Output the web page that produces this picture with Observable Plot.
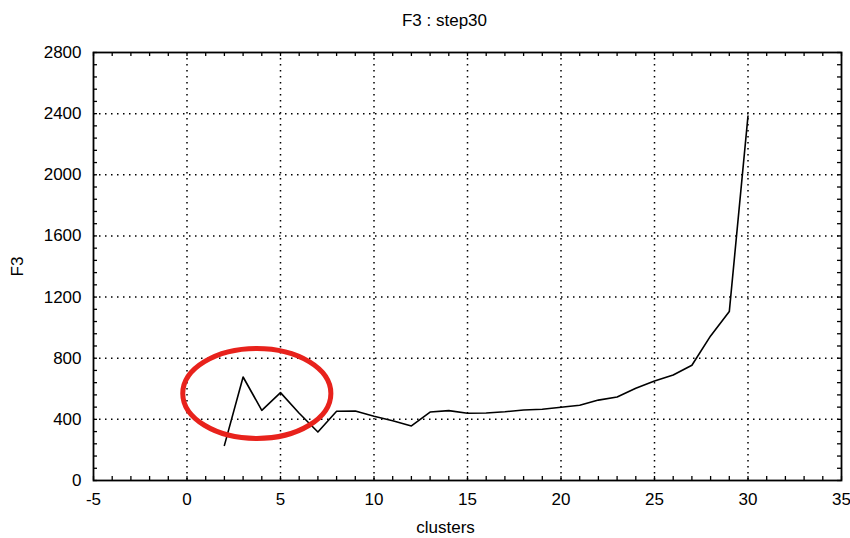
<!DOCTYPE html>
<html><head><meta charset="utf-8">
<script src="https://cdn.jsdelivr.net/npm/d3@7"></script>
<script src="https://cdn.jsdelivr.net/npm/@observablehq/plot@0.6"></script>
<style>body{margin:0;background:#fff}</style>
</head><body><div id="chart"></div>
<script>
const clusters = [2,3,4,5,6,7,8,9,10,11,12,13,14,15,16,17,18,19,20,21,22,23,24,25,26,27,28,29,30];
const f3 = [230,677,459,575,440,317,453,455,420,391,357,448,457,440,442,450,461,466,479,492,526,546,603,651,690,754,946,1105,2385];
const xTicks = [-5,0,5,10,15,20,25,30,35];
const yTicks = [0,400,800,1200,1600,2000,2400,2800];
const xMinor = d3.range(-5, 36, 1);
const yMinor = d3.range(0, 2801, 80);
const titleText = "F3 : step30";
const xLabel = "clusters";
const yLabel = "F3";
// highlight annotation (center and radii in data units)
const highlight = {cx: 3.76, cy: 566, rx: 3.96, ry: 294};

const data = clusters.map((c, i) => ({c, v: f3[i]}));
const W = 850, H = 538;
const mL = 93, mR = 9, mT = 52, mB = 58;
const pw = W - mL - mR, ph = H - mT - mB;
const tl = 4;
const font = "Liberation Sans, Arial, sans-serif";

const ellipseMark = (index, scales, values, dimensions, context) => {
  const x0 = scales.x(highlight.cx), y0 = scales.y(highlight.cy);
  const rxp = Math.abs(scales.x(highlight.cx + highlight.rx) - x0);
  const ryp = Math.abs(scales.y(highlight.cy + highlight.ry) - y0);
  const e = d3.create("svg:ellipse")
    .attr("cx", x0).attr("cy", y0).attr("rx", rxp).attr("ry", ryp)
    .attr("fill", "none").attr("stroke", "#e8221c").attr("stroke-width", 5);
  return e.node();
};

const chart = Plot.plot({
  width: W, height: H,
  marginLeft: mL, marginRight: mR, marginTop: mT, marginBottom: mB,
  style: {fontFamily: font, fontSize: "17px", background: "#fff", color: "#000"},
  x: {domain: [-5, 35]},
  y: {domain: [0, 2800]},
  marks: [
    Plot.ruleX(xTicks.slice(1, -1), {x: d => d, stroke: "#000", strokeWidth: 1.5, strokeDasharray: "1.5,4.5"}),
    Plot.ruleY(yTicks.slice(1, -1), {y: d => d, stroke: "#000", strokeWidth: 1.5, strokeDasharray: "1.5,4.5"}),
    Plot.ruleX(xMinor, {x: d => d, insetTop: ph - tl, stroke: "#000", strokeWidth: 1.3}),
    Plot.ruleX(xMinor, {x: d => d, insetBottom: ph - tl, stroke: "#000", strokeWidth: 1.3}),
    Plot.ruleY(yMinor, {y: d => d, insetRight: pw - tl, stroke: "#000", strokeWidth: 1.3}),
    Plot.ruleY(yMinor, {y: d => d, insetLeft: pw - tl, stroke: "#000", strokeWidth: 1.3}),
    Plot.line(data, {x: "c", y: "v", stroke: "#000", strokeWidth: 1.6}),
    ellipseMark,
    Plot.frame({stroke: "#000", strokeWidth: 1.8}),
    Plot.axisX({ticks: xTicks, tickSize: 0, tickPadding: 12, label: null, fontSize: 17, tickFormat: d => String(d)}),
    Plot.axisY({ticks: yTicks, tickSize: 0, tickPadding: 12, label: null, fontSize: 17, tickFormat: d => String(d)}),
    Plot.text([titleText], {frameAnchor: "top", dx: -23, dy: -31.5, lineAnchor: "middle", fontSize: 17}),
    Plot.text([xLabel], {frameAnchor: "bottom", dx: -22, dy: 47, lineAnchor: "middle", fontSize: 17}),
    Plot.text([yLabel], {frameAnchor: "left", dx: -76, dy: 10, rotate: -90, lineAnchor: "middle", fontSize: 17})
  ]
});
document.getElementById("chart").appendChild(chart);
</script>
</body></html>
